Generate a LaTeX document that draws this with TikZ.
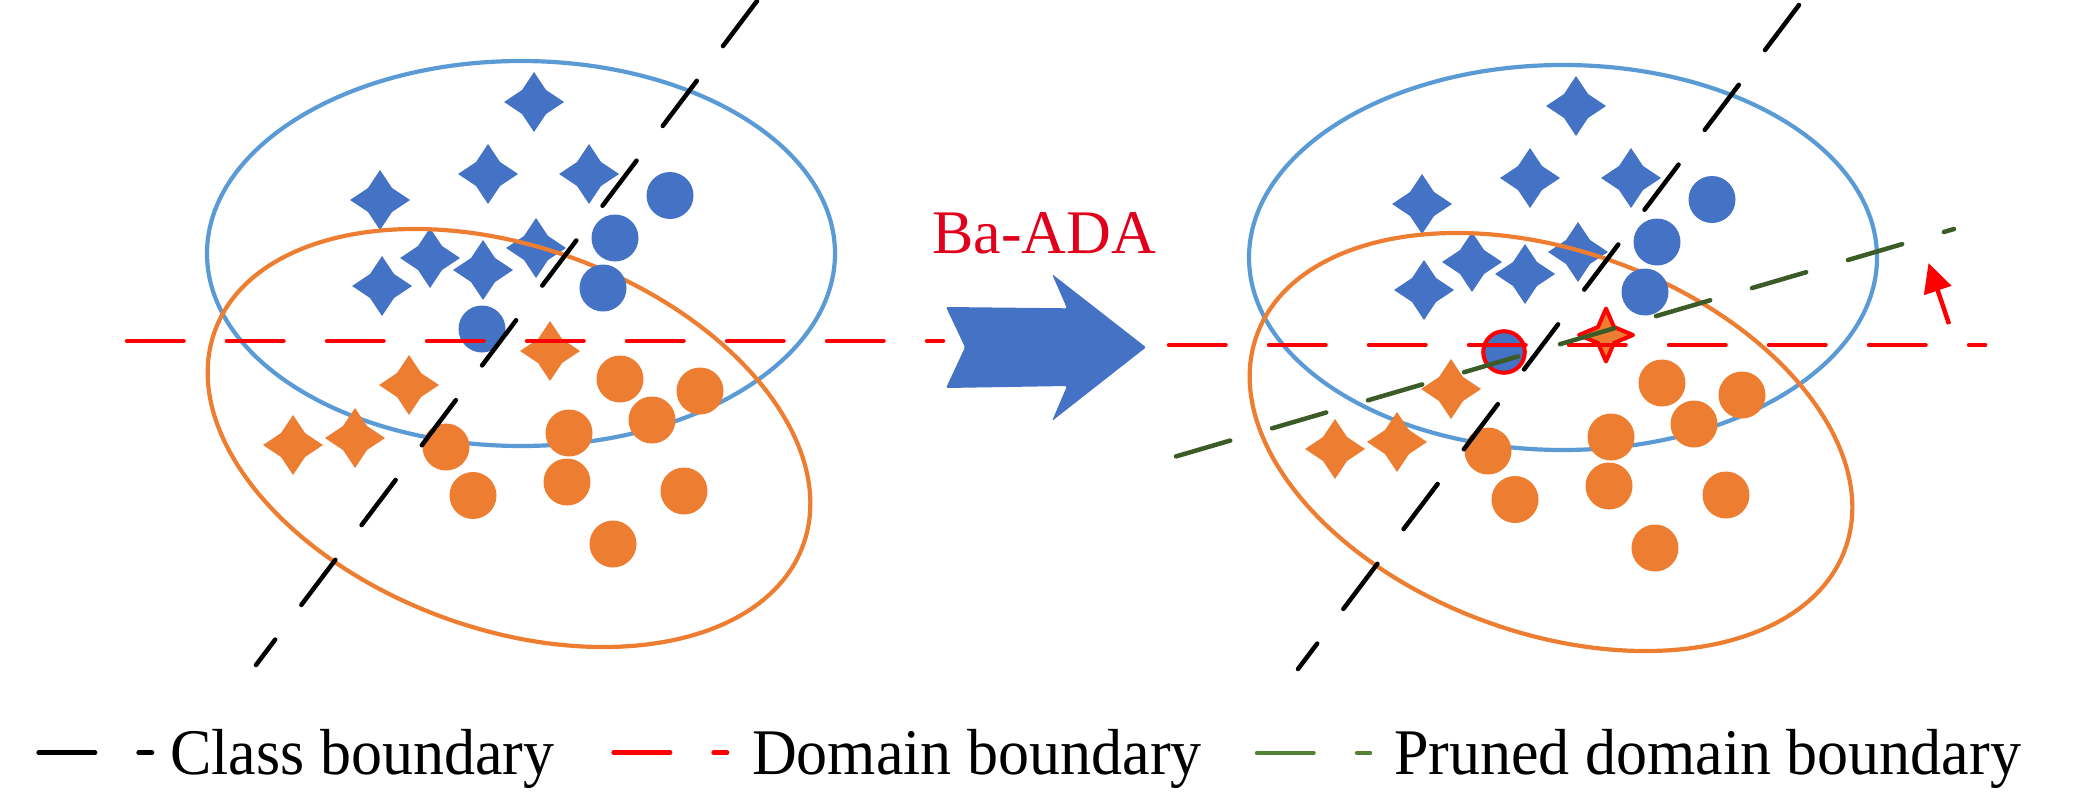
\documentclass[tikz,border=0pt]{standalone}
\usepackage{fontspec}
\setmainfont{Liberation Serif}
\usetikzlibrary{arrows.meta}
\definecolor{ptblue}{HTML}{4472C4}
\definecolor{ptorange}{HTML}{ED7D31}
\definecolor{ellblue}{HTML}{5B9BD5}
\definecolor{ellorange}{HTML}{ED7D31}
\definecolor{bdred}{HTML}{FF0000}
\definecolor{prgreen}{HTML}{3B5B27}
\definecolor{lggreen}{HTML}{548235}
\definecolor{titlered}{HTML}{E0001B}
\tikzset{
  pics/fourstar/.style={code={\path[pic actions] (0,-30) -- (12,-12) -- (30,0) -- (12,12) -- (0,30) -- (-12,12) -- (-30,0) -- (-12,-12) -- cycle;}},
  pics/fourstarsm/.style={code={\path[pic actions] (0,-26.5) -- (8,-8) -- (27,0) -- (8,8) -- (0,26.5) -- (-8,8) -- (-27,0) -- (-8,-8) -- cycle;}},
  bnd/.style={line width=4.5pt, line cap=round, dash pattern=on 56.5pt off 43.5pt},
  ell/.style={line width=4.2pt},
  lbl/.style={inner sep=0pt, anchor=base west, font=\fontsize{62}{70}\selectfont},
}
\newcommand\panelmarks{%
  \draw[ellblue, ell] (521,253.5) ellipse [x radius=314, y radius=192.5];
  \foreach \p in {(534,102),(488,174),(589,174),(380,200),(536,248),(430,258),(483,270),(382,286)}
    \pic[fill=ptblue] at \p {fourstar};
  \draw[ellorange, ell, rotate around={-20:(509,438)}] (509,438) ellipse [x radius=313, y radius=191];
  \foreach \p in {(670,195.5),(615,238),(603,288)}
    \fill[ptblue] \p circle (23.5);
  \foreach \p in {(409,385),(293,445),(355,438)}
    \pic[fill=ptorange] at \p {fourstar};
  \foreach \p in {(620,379),(700,391),(652,420),(569,433),(446,447),(567,482),(684,491),(473,495.5),(613,544)}
    \fill[ptorange] \p circle (23.5);
}
\newcommand\panellines{%
  \draw[bnd, black] (757,1) -- (256,665);
  \draw[bnd, bdred] (127,341) -- (943,341);
}
\begin{document}
\begin{tikzpicture}[x=1pt,y=-1pt]
\useasboundingbox (0,0) rectangle (2079,792);
% left panel
\panelmarks
\fill[ptblue] (482,329) circle (23.5);
\pic[fill=ptorange] at (550,351) {fourstar};
\panellines
% right panel
\begin{scope}[shift={(1042,4)}]
\panelmarks
\end{scope}
\draw[fill=ptblue, draw=bdred, line width=4pt] (1504,352) circle (20.8);
\pic[fill=ptorange, draw=bdred, line width=4pt, line join=round] at (1606,335) {fourstarsm};
\begin{scope}[shift={(1042,4)}]
\panellines
\end{scope}
\draw[bnd, prgreen] (1176,456.4) -- (1954,229);
\draw[bdred, line width=4.5pt, -{Triangle[length=29pt,width=28pt]}] (1949,324) -- (1928.5,263);
% big arrow
\fill[ptblue, rounded corners=1.5pt] (946,307) -- (1067,308.3) -- (1052,274) -- (1146,347.3) -- (1052,421) -- (1067,386) -- (946,388) -- (965,347.3) -- cycle;
\node[lbl, text=titlered] (title) at (932,253) {Ba-ADA};
% legend
\draw[bnd, black] (38.6,752.7) -- (152,752.7);
\node[lbl] (lgclass) at (170,774) {\scalebox{1}[1.05]{Class boundary}};
\draw[bnd, bdred] (613.6,752.7) -- (727,752.7);
\node[lbl] (lgdomain) at (752,774) {\scalebox{1}[1.05]{Domain boundary}};
\draw[bnd, lggreen] (1257,753) -- (1370,753);
\node[lbl] (lgpruned) at (1394,774) {\scalebox{1}[1.05]{Pruned domain boundary}};
\end{tikzpicture}
\end{document}
